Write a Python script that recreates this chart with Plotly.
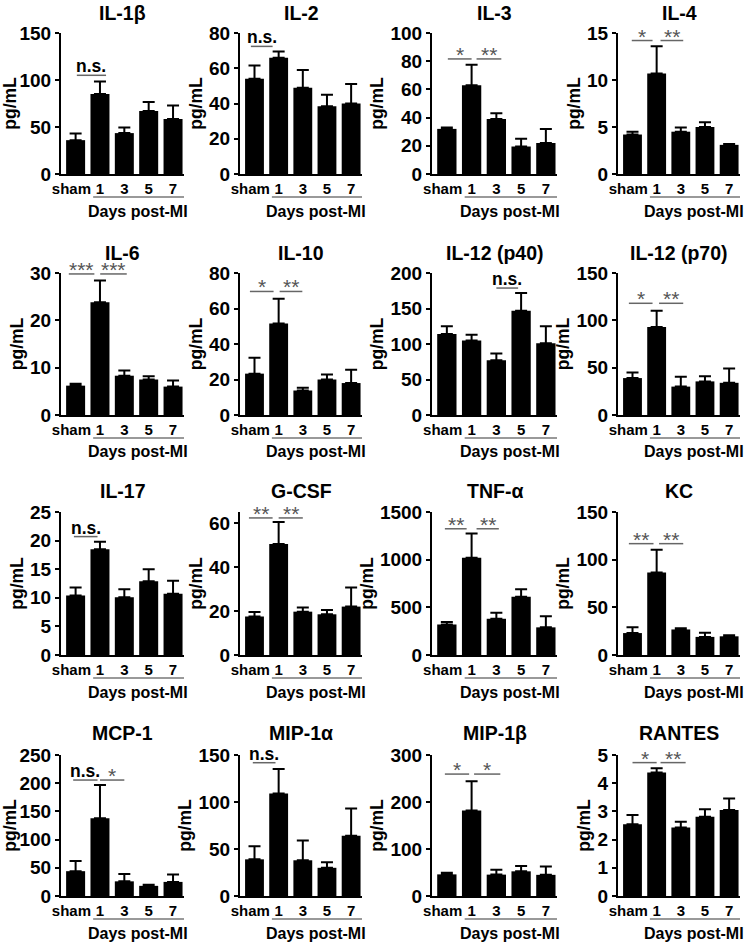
import plotly.graph_objects as go

# ---------------- data ----------------
categories = ["sham", "1", "3", "5", "7"]
panel_names = ["IL-1β", "IL-2", "IL-3", "IL-4",
               "IL-6", "IL-10", "IL-12 (p40)", "IL-12 (p70)",
               "IL-17", "G-CSF", "TNF-α", "KC",
               "MCP-1", "MIP-1α", "MIP-1β", "RANTES"]

il1b_mean = [36, 85, 43.5, 67, 58.5];    il1b_sem = [7, 13.5, 6, 9.5, 14.5]
il2_mean = [54, 66, 49, 38.5, 40];       il2_sem = [7.5, 3.5, 10, 6.5, 11]
il3_mean = [32, 63, 39, 19.5, 22];       il3_sem = [1, 14.5, 4, 5.5, 10]
il4_mean = [4.2, 10.7, 4.5, 5.0, 3.1];   il4_sem = [0.3, 2.9, 0.45, 0.5, 0.1]
il6_mean = [6.2, 23.8, 8.3, 7.5, 6.0];   il6_sem = [0.4, 4.6, 1.1, 0.7, 1.3]
il10_mean = [23.3, 51.5, 13.8, 20, 18];  il10_sem = [9, 14, 1.6, 2.8, 7.5]
p40_mean = [114, 105, 77, 147, 101];     p40_sem = [11, 8, 9.5, 25, 24]
p70_mean = [39, 93, 30, 35.5, 34];       p70_sem = [6, 17, 10.5, 5.5, 15]
il17_mean = [10.4, 18.5, 10.1, 12.9, 10.7]; il17_sem = [1.4, 1.3, 1.4, 2.1, 2.3]
gcsf_mean = [17.5, 50.5, 19.7, 18.5, 22];   gcsf_sem = [2, 10, 1.9, 1.9, 8.7]
tnf_mean = [320, 1020, 380, 612, 290];      tnf_sem = [25, 255, 62, 77, 117]
kc_mean = [23, 86.5, 26.8, 19, 19.6];       kc_sem = [6, 24, 1.2, 4.3, 1.1]
mcp1_mean = [44, 138, 26, 18, 25];          mcp1_sem = [18, 59, 13, 2, 13]
mip1a_mean = [39, 109, 38, 30, 64];         mip1a_sem = [14, 26, 21, 6, 29]
mip1b_mean = [46, 182, 45.5, 52.5, 45];     mip1b_sem = [3.5, 62, 10.5, 11.5, 18]
rantes_mean = [2.54, 4.38, 2.43, 2.81, 3.05]; rantes_sem = [0.33, 0.15, 0.2, 0.27, 0.41]

means = [il1b_mean, il2_mean, il3_mean, il4_mean, il6_mean, il10_mean, p40_mean, p70_mean,
         il17_mean, gcsf_mean, tnf_mean, kc_mean, mcp1_mean, mip1a_mean, mip1b_mean, rantes_mean]
sems = [il1b_sem, il2_sem, il3_sem, il4_sem, il6_sem, il10_sem, p40_sem, p70_sem,
        il17_sem, gcsf_sem, tnf_sem, kc_sem, mcp1_sem, mip1a_sem, mip1b_sem, rantes_sem]

y_max = [150, 80, 100, 15, 30, 80, 200, 150, 25, 65, 1500, 150, 250, 150, 300, 5]
y_step = [50, 20, 20, 5, 10, 20, 50, 50, 5, 20, 500, 50, 50, 50, 100, 1]

# significance brackets: (from index, to index, label, value level)
sig_marks = [
    [(0.05, 1.25, "n.s.", 105)],
    [(-0.15, 0.75, "n.s.", 72.4)],
    [(0.04, 1.0, "*", 81.6), (1.2, 2.2, "**", 81.6)],
    [(-0.03, 0.83, "*", 14.2), (1.16, 2.1, "**", 14.2)],
    [(-0.28, 0.77, "***", 29.8), (1.01, 2.1, "***", 29.8)],
    [(-0.19, 0.79, "*", 69.6), (1.04, 1.98, "**", 69.6)],
    [(2.0, 2.88, "n.s.", 178.8)],
    [(-0.15, 0.83, "*", 118), (1.1, 2.1, "**", 118)],
    [(-0.07, 0.9, "n.s.", 20.7)],
    [(-0.23, 0.75, "**", 62.3), (1.0, 2.0, "**", 62.3)],
    [(-0.08, 0.8, "**", 1324), (1.2, 2.1, "**", 1324)],
    [(-0.15, 0.87, "**", 116.8), (1.1, 2.1, "**", 116.8)],
    [(-0.1, 0.9, "n.s.", 205.6), (1.0, 2.0, "*", 205.6)],
    [(-0.07, 0.87, "n.s.", 141.8)],
    [(-0.08, 0.9, "*", 259.4), (1.1, 2.16, "*", 259.4)],
    [(0.0, 1.0, "*", 4.73), (1.16, 2.2, "**", 4.73)],
]

# ---------------- layout geometry (pixels) ----------------
W, H = 750, 945
col_x = [(61, 184), (240, 362), (432, 557), (618, 740)]
row_y = [(33, 174), (273, 415), (512, 655), (755, 896)]
title_y = [13, 253, 491, 733]

FONT = "Liberation Sans, Arial, sans-serif"
positions = list(range(len(categories)))
tick_text = ["sham\u00a0\u00a0"] + categories[1:]

fig = go.Figure()
shapes = []
annotations = []

for k in range(16):
    r, c = divmod(k, 4)
    x0, x1 = col_x[c]
    yt, yz = row_y[r]
    xa = "x" if k == 0 else f"x{k+1}"
    ya = "y" if k == 0 else f"y{k+1}"
    xkey = "xaxis" if k == 0 else f"xaxis{k+1}"
    ykey = "yaxis" if k == 0 else f"yaxis{k+1}"

    fig.add_trace(go.Bar(
        x=positions, y=means[k], width=0.78,
        marker=dict(color="black", line=dict(width=0)),
        error_y=dict(type="data", symmetric=False, array=sems[k],
                     arrayminus=[0] * len(sems[k]),
                     color="black", thickness=2, width=6),
        xaxis=xa, yaxis=ya, showlegend=False, hoverinfo="skip"))

    fig.layout[xkey] = dict(
        domain=[x0 / W, x1 / W], anchor=ya, range=[-0.6, 4.45], automargin=False,
        tickmode="array", tickvals=positions, ticktext=tick_text, tickangle=0,
        ticks="", showline=True, linecolor="black", linewidth=2,
        showgrid=False, zeroline=False, fixedrange=True,
        tickfont=dict(family=FONT, size=15, color="black", weight="bold"))
    fig.layout[ykey] = dict(
        domain=[1 - yz / H, 1 - yt / H], anchor=xa, range=[0, y_max[k]], automargin=False,
        tickmode="linear", tick0=0, dtick=y_step[k],
        ticks="outside", ticklen=4, tickwidth=2, tickcolor="black",
        showline=True, linecolor="black", linewidth=2,
        showgrid=False, zeroline=False, fixedrange=True,
        tickfont=dict(family=FONT, size=19, color="black", weight="bold"),
        title=dict(text="pg/mL", standoff=2,
                   font=dict(family=FONT, size=17.5, color="black", weight="bold")))

    # panel title
    annotations.append(dict(
        text=panel_names[k], xref="paper", yref="paper",
        x=(x0 + x1) / 2 / W, y=1 - title_y[r] / H, showarrow=False,
        xanchor="center", yanchor="middle",
        font=dict(family=FONT, size=19.5, color="black", weight="bold")))

    # bracket under days & label
    shapes.append(dict(type="line", xref=xa, yref="paper",
                       x0=0.72, x1=4.45,
                       y0=1 - (yz + 23) / H, y1=1 - (yz + 23) / H,
                       line=dict(color="#777777", width=1.5)))
    annotations.append(dict(
        text="Days post-MI", xref=xa, yref="paper", x=2.55,
        y=1 - (yz + 37) / H, showarrow=False, xanchor="center", yanchor="middle",
        font=dict(family=FONT, size=16, color="black", weight="bold")))

    # significance marks
    for (a, b, lab, lvl) in sig_marks[k]:
        shapes.append(dict(type="line", xref=xa, yref=ya, x0=a, x1=b, y0=lvl, y1=lvl,
                           line=dict(color="#666666", width=1.5)))
        if lab == "n.s.":
            annotations.append(dict(
                text=lab, xref=xa, yref=ya, x=(a + b) / 2, y=lvl, showarrow=False,
                xanchor="center", yanchor="bottom", yshift=-3,
                font=dict(family=FONT, size=17.5, color="black", weight="bold")))
        else:
            annotations.append(dict(
                text=lab, xref=xa, yref=ya, x=(a + b) / 2, y=lvl, showarrow=False,
                xanchor="center", yanchor="bottom", yshift=-9,
                font=dict(family=FONT, size=21, color="#555555")))

fig.update_layout(
    template="none",
    width=W, height=H, margin=dict(l=0, r=0, t=0, b=0, pad=0, autoexpand=False),
    paper_bgcolor="white", plot_bgcolor="white",
    bargap=0.2, shapes=shapes, annotations=annotations,
    font=dict(family=FONT, color="black"))

fig.write_html("out.html", config={"displayModeBar": False},
               post_script="document.body.style.margin='0';document.body.style.overflow='hidden';")
